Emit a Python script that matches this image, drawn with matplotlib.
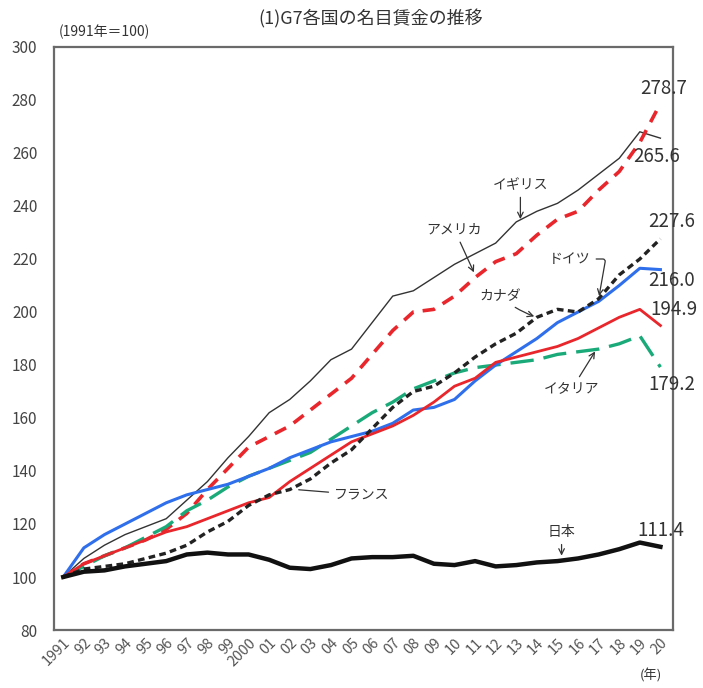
import numpy as np
import matplotlib
matplotlib.use("Agg")
import matplotlib.pyplot as plt

plt.rcParams["font.family"] = ["Noto Sans CJK JP", "DejaVu Sans"]

# Data (1991 = 100)
years = list(range(1991, 2021))
year_labels = ["1991"] + [f"{y % 100:02d}" for y in range(1992, 2000)] + ["2000"] + \
    [f"{y % 100:02d}" for y in range(2001, 2021)]

uk = [100, 107, 112, 116, 119, 122, 129, 136, 145, 153, 162, 167, 174, 182, 186,
      196, 206, 208, 213, 218, 222, 226, 234, 238, 241, 246, 252, 258, 268, 265.6]
usa = [100, 105, 108, 111, 114, 118, 124, 133, 141, 149, 153, 157, 163, 169, 175,
       184, 193, 200, 201, 206, 213, 219, 222, 229, 235, 238, 246, 253, 264, 278.7]
germany = [100, 103, 104, 105, 107, 109, 112, 117, 121, 127, 131, 133, 137, 143, 148,
           156, 164, 170, 172, 177, 183, 188, 192, 198, 201, 200, 205, 214, 220, 227.6]
canada = [100, 111, 116, 120, 124, 128, 131, 133, 135, 138, 141, 145, 148, 151, 153,
          155, 158, 163, 164, 167, 174, 180, 185, 190, 196, 200, 204, 210, 216.5, 216.0]
france = [100, 105, 108, 111, 114, 117, 119, 122, 125, 128, 130, 136, 141, 146, 151,
          154, 157, 161, 166, 172, 175, 181, 183, 185, 187, 190, 194, 198, 201, 194.9]
italy = [100, 104, 108, 111, 115, 119, 125, 129, 134, 138, 141, 144, 147, 152, 157,
         162, 166, 171, 174, 177, 179, 180, 181, 182, 184, 185, 186, 188, 191, 179.2]
japan = [100, 102, 102.5, 104, 105, 106, 108.5, 109.2, 108.5, 108.5, 106.5, 103.5, 103, 104.5, 107,
         107.5, 107.5, 108, 105, 104.5, 106, 104, 104.5, 105.5, 106, 107, 108.5, 110.5, 113, 111.4]

red = "#e8262b"
blue = "#2f6fec"
green = "#1aaa7a"
txt = "#333333"

fig = plt.figure(figsize=(7.03, 6.88), dpi=100)
ax = fig.add_axes([0.0768, 0.0843, 0.8802, 0.8474])

ax.plot(years, uk, color="#333333", lw=1.0)
ax.plot(years, usa, color=red, lw=2.6, dashes=(3.5, 2.5))
ax.plot(years, italy, color=green, lw=2.4, dashes=(7, 3))
ax.plot(years, canada, color=blue, lw=2.2)
ax.plot(years, france, color=red, lw=2.0)
ax.plot(years, germany, color="#222222", lw=2.4, dashes=(2, 1.3))
ax.plot(years, japan, color="#111111", lw=3.2)

ax.set_xlim(1990.55, 2020.6)
ax.set_ylim(80, 300)
ax.set_yticks(range(80, 301, 20))
ax.set_xticks(years)
ax.set_xticklabels(year_labels, rotation=45, ha="right", rotation_mode="anchor",
                   fontsize=10.5, color="#555555")
ax.tick_params(axis="y", labelsize=11, colors="#444444", length=0, pad=12)
ax.tick_params(axis="x", length=0, pad=4)
for s in ax.spines.values():
    s.set_color("#6a6a6a")
    s.set_linewidth(1.6)

# Country labels with arrows
arrow = dict(arrowstyle="->", color="#333333", lw=0.9)
ax.annotate("イギリス", xy=(2013.2, 234), xytext=(2013.2, 248), ha="center", va="center",
            fontsize=10, color=txt, arrowprops=arrow)
ax.annotate("アメリカ", xy=(2011.0, 214), xytext=(2010.0, 231), ha="center", va="center",
            fontsize=10, color=txt, arrowprops=arrow)
ax.annotate("カナダ", xy=(2014.0, 198), xytext=(2012.2, 206), ha="center", va="center",
            fontsize=10, color=txt, arrowprops=dict(arrowstyle="->", color="#333333", lw=0.9,
                                                    connectionstyle="arc3,rad=0.1"))
ax.annotate("ドイツ", xy=(2017.0, 205), xytext=(2015.6, 220), ha="center", va="center",
            fontsize=10, color=txt,
            arrowprops=dict(arrowstyle="->", color="#333333", lw=0.9,
                            connectionstyle="angle,angleA=0,angleB=80,rad=3"))
ax.annotate("イタリア", xy=(2016.9, 186), xytext=(2015.7, 171), ha="center", va="center",
            fontsize=10, color=txt, arrowprops=arrow)
ax.annotate("フランス", xy=(2002.3, 133), xytext=(2005.5, 131), ha="center", va="center",
            fontsize=10, color=txt, arrowprops=dict(arrowstyle="-", color="#333333", lw=0.9))
ax.annotate("日本", xy=(2015.2, 107), xytext=(2015.2, 117), ha="center", va="center",
            fontsize=10, color=txt, arrowprops=arrow)

# End values
val_kw = dict(fontsize=13.5, color=txt, ha="left", va="center")
ax.text(2019.0, 284.5, "278.7", **val_kw)
ax.text(2018.7, 258.5, "265.6", **val_kw)
ax.text(2019.4, 234, "227.6", **val_kw)
ax.text(2019.4, 212, "216.0", **val_kw)
ax.text(2019.5, 200.8, "194.9", **val_kw)
ax.text(2019.4, 172.5, "179.2", **val_kw)
ax.text(2018.9, 117.7, "111.4", **val_kw)

fig.text(0.528, 0.973, "(1)G7各国の名目賃金の推移", ha="center", va="center", fontsize=13,
         color=txt)
fig.text(0.084, 0.953, "(1991年＝100)", ha="left", va="center", fontsize=10, color=txt)
fig.text(0.91, 0.018, "(年)", ha="left", va="center", fontsize=9.5, color=txt)

fig.savefig("out.png", dpi=100)
